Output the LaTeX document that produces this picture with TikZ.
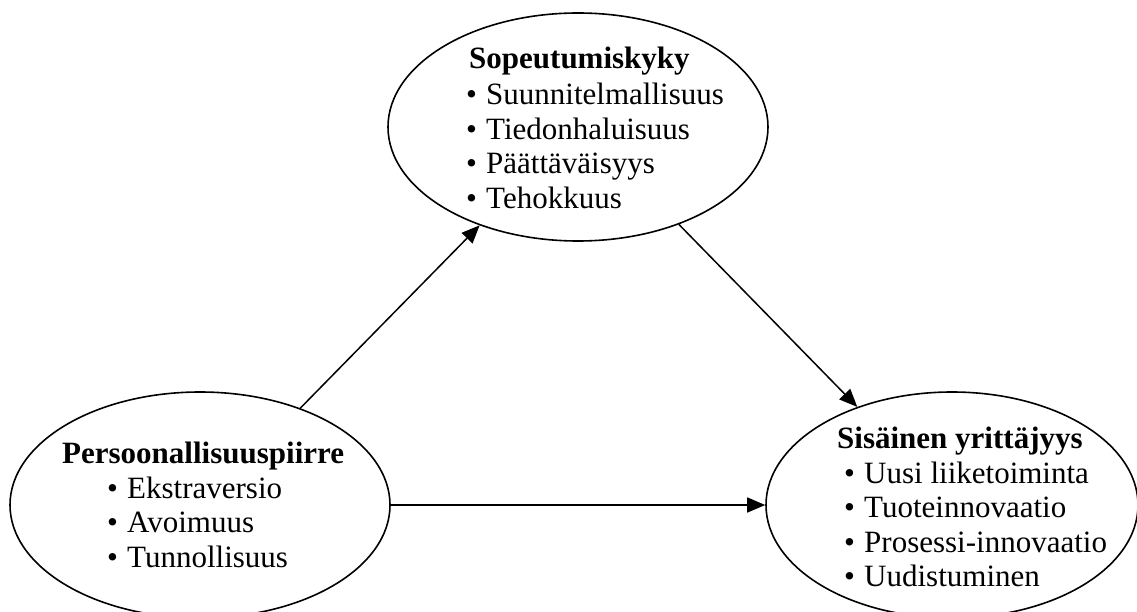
\documentclass[tikz,border=0pt]{standalone}
\usepackage{fontspec}
\setmainfont{Liberation Serif}
\usetikzlibrary{shapes.geometric,arrows.meta}
% bullet item with a fixed hanging width
\newcommand\itm[1]{\makebox[20pt][l]{•}#1}
\newcommand\bfont{\fontsize{31}{34.5}\selectfont}
\begin{document}
\begin{tikzpicture}[x=1pt,y=-1pt,
  oval/.style={draw, line width=1.6pt, ellipse, inner sep=0pt},
  head/.style={anchor=base west, inner sep=0pt, font=\bfont\bfseries},
  items/.style={anchor=base west, inner sep=0pt, font=\bfont},
  link/.style={line width=1.5pt, -{Triangle[length=18pt,width=15pt]}}]
\useasboundingbox (0,0) rectangle (1137,612);

% the three constructs
\node[oval, minimum width=380pt, minimum height=228pt] (sop) at (578,127) {};
\node[oval, minimum width=380pt, minimum height=226pt] (per) at (200,505) {};
\node[oval, minimum width=372pt, minimum height=226pt] (sis) at (952,505) {};

% labels
\node[head] (sopH) at (469,69) {Sopeutumiskyky};
\node[items] (sopL) at (466,105) {\begin{tabular}[t]{@{}l@{}}
  \itm{Suunnitelmallisuus}\\ \itm{Tiedonhaluisuus}\\ \itm{Päättäväisyys}\\ \itm{Tehokkuus}
\end{tabular}};

\node[head] (perH) at (62,463) {Persoonallisuuspiirre};
\node[items] (perL) at (107,498) {\begin{tabular}[t]{@{}l@{}}
  \itm{Ekstraversio}\\ \itm{Avoimuus}\\ \itm{Tunnollisuus}
\end{tabular}};

\node[head] (sisH) at (837,448) {Sisäinen yrittäjyys};
\node[items] (sisL) at (844,483) {\begin{tabular}[t]{@{}l@{}}
  \itm{Uusi liiketoiminta}\\ \itm{Tuoteinnovaatio}\\ \itm{Prosessi-innovaatio}\\ \itm{Uudistuminen}
\end{tabular}};

% relations
\draw[link] (per.44) -- (sop.225);
\draw[link] (sop.316) -- (sis.134);
\draw[link] (per.east) -- (sis.west);
\end{tikzpicture}
\end{document}
